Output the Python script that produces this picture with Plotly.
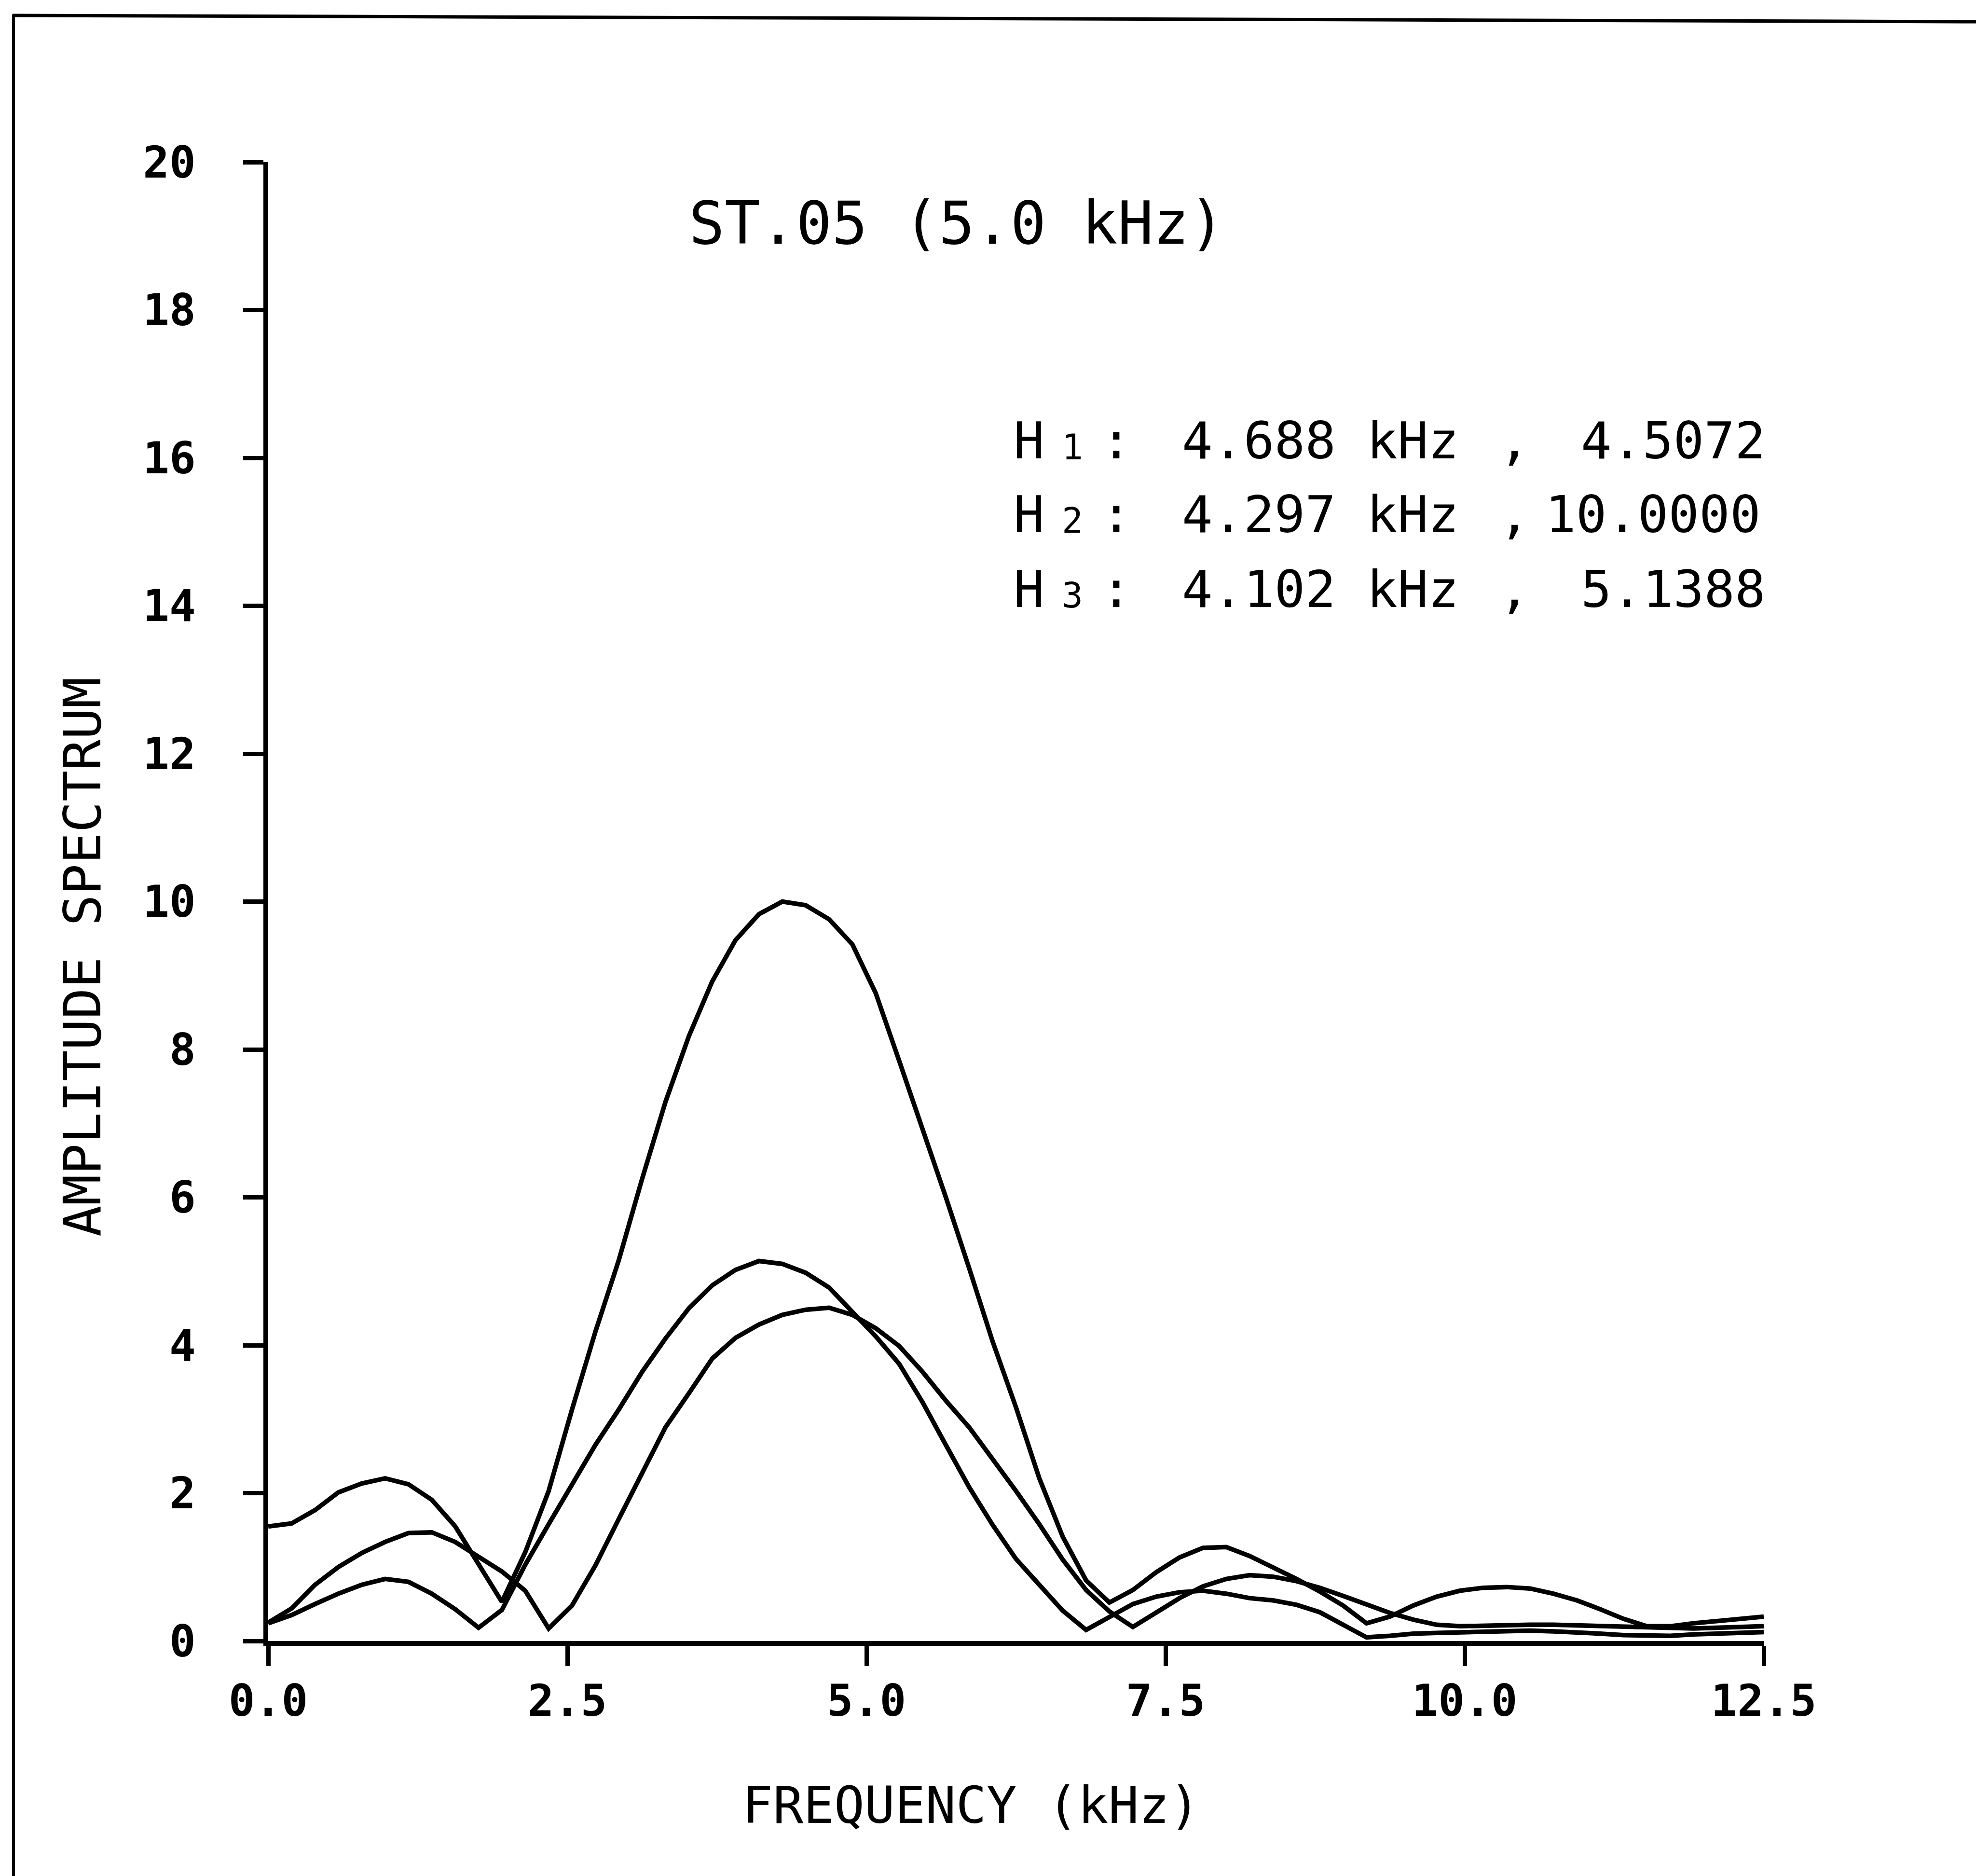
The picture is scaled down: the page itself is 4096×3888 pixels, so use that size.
import plotly.graph_objects as go

# ---- figure geometry (pixels) ----
W, H = 4096, 3888
L, R, T, B = 556, 3656, 336, 3401   # plot area edges

# ---- data: amplitude spectra sampled on the FFT frequency bins (kHz) ----
freq_khz = [0.000, 0.195, 0.391, 0.586, 0.781, 0.977, 1.172, 1.367, 1.563, 1.758,
            1.953, 2.148, 2.344, 2.539, 2.734, 2.930, 3.125, 3.320, 3.516, 3.711,
            3.906, 4.102, 4.297, 4.492, 4.688, 4.883, 5.078, 5.273, 5.469, 5.664,
            5.859, 6.055, 6.250, 6.445, 6.641, 6.836, 7.031, 7.227, 7.422, 7.617,
            7.813, 8.008, 8.203, 8.398, 8.594, 8.789, 8.984, 9.180, 9.375, 9.570,
            9.766, 9.961, 10.156, 10.352, 10.547, 10.742, 10.938, 11.133, 11.328, 11.523,
            11.719, 11.914, 12.109, 12.305, 12.500]

h1 = [0.25, 0.44, 0.76, 1.00, 1.19, 1.34, 1.46, 1.47, 1.34, 1.14,
      0.94, 0.68, 0.17, 0.48, 1.02, 1.65, 2.27, 2.89, 3.35, 3.82,
      4.10, 4.28, 4.41, 4.48, 4.5072, 4.41, 4.23, 3.99, 3.64, 3.25,
      2.89, 2.47, 2.03, 1.58, 1.10, 0.69, 0.40, 0.19, 0.38, 0.58,
      0.74, 0.84, 0.89, 0.87, 0.81, 0.72, 0.61, 0.50, 0.38, 0.29,
      0.22, 0.20, 0.21, 0.22, 0.22, 0.22, 0.21, 0.20, 0.19, 0.18,
      0.17, 0.17, 0.18, 0.19, 0.20]

h2 = [1.55, 1.59, 1.77, 2.01, 2.13, 2.20, 2.12, 1.91, 1.55, 1.05,
      0.53, 1.20, 2.03, 3.13, 4.18, 5.15, 6.25, 7.29, 8.18, 8.92,
      9.48, 9.83, 10.0000, 9.95, 9.76, 9.42, 8.76, 7.85, 6.94, 6.00,
      5.04, 4.05, 3.16, 2.20, 1.41, 0.82, 0.52, 0.69, 0.93, 1.13,
      1.26, 1.27, 1.15, 1.00, 0.84, 0.67, 0.48, 0.24, 0.33, 0.48,
      0.60, 0.68, 0.72, 0.73, 0.71, 0.64, 0.55, 0.43, 0.30, 0.20,
      0.20, 0.24, 0.27, 0.31, 0.33]

h3 = [0.24, 0.35, 0.50, 0.64, 0.76, 0.84, 0.80, 0.64, 0.43, 0.18,
      0.42, 1.03, 1.58, 2.13, 2.65, 3.13, 3.64, 4.09, 4.50, 4.81,
      5.02, 5.1388, 5.10, 4.98, 4.78, 4.45, 4.12, 3.75, 3.23, 2.65,
      2.08, 1.57, 1.11, 0.76, 0.41, 0.15, 0.33, 0.50, 0.60, 0.66,
      0.68, 0.64, 0.58, 0.55, 0.49, 0.39, 0.22, 0.05, 0.07, 0.10,
      0.11, 0.12, 0.13, 0.14, 0.14, 0.13, 0.12, 0.10, 0.08, 0.07,
      0.07, 0.09, 0.10, 0.11, 0.12]

# peak of each spectrum: (frequency kHz, amplitude)
peak_ids = ["1", "2", "3"]
peak_freq = [4.688, 4.297, 4.102]
peak_amp = [4.5072, 10.0000, 5.1388]

title_text = "ST.05 (5.0 kHz)"
x_title = "FREQUENCY (kHz)"
y_title = "AMPLITUDE SPECTRUM"

x_tickvals = [0, 2.5, 5, 7.5, 10, 12.5]
x_ticktext = ["0.0", "2.5", "5.0", "7.5", "10.0", "12.5"]
y_tickvals = [0, 2, 4, 6, 8, 10, 12, 14, 16, 18, 20]
y_ticktext = ["0", "2", "4", "6", "8", "10", "12", "14", "16", "18", "20"]

MONO = "DejaVu Sans Mono"
INK = "black"


def xp(px):
    """pixel column -> paper x"""
    return (px - L) / (R - L)


def yp(py):
    """pixel row -> paper y"""
    return (B - py) / (B - T)


fig = go.Figure()
for series in (h1, h2, h3):
    fig.add_trace(go.Scatter(
        x=freq_khz, y=series, mode="lines",
        line=dict(color=INK, width=9.5),
        showlegend=False, hoverinfo="skip", cliponaxis=False,
    ))

axis_common = dict(
    showline=True, linecolor=INK, linewidth=10,
    ticks="outside", tickcolor=INK, tickwidth=9,
    showgrid=False, zeroline=False, mirror=False,
    tickfont=dict(family=MONO, size=91, color=INK, weight="bold"),
)

fig.update_xaxes(range=[0, 12.5], tickvals=x_tickvals, ticktext=x_ticktext,
                 ticklen=42, ticklabelstandoff=-6, **axis_common)
fig.update_yaxes(range=[0, 20], tickvals=y_tickvals, ticktext=y_ticktext,
                 ticklen=42, ticklabelstandoff=80, **axis_common)

ann = []


def text(x, y, s, size, xanchor="left", angle=0):
    ann.append(dict(x=xp(x), y=yp(y), xref="paper", yref="paper", text=s,
                    showarrow=False, xanchor=xanchor, yanchor="middle",
                    textangle=angle,
                    font=dict(family=MONO, size=size, color=INK)))


# chart title
text(1426, 462, title_text, 123)

# peak table
row_y = [914, 1066, 1221]
for i, (hid, f, a) in enumerate(zip(peak_ids, peak_freq, peak_amp)):
    y = row_y[i]
    text(2099, y, "H", 106)
    text(2199, y + 12, hid, 73)
    text(2314, y, ":", 106, xanchor="center")
    text(2448, y, f"{f:.3f} kHz", 106)
    text(3139, y, ",", 106, xanchor="center")
    text(3662 if a < 10 else 3652, y, f"{a:.4f}", 106, xanchor="right")

# axis titles
text(1537, 3742, x_title, 105)
text(171, 1983, y_title, 107, xanchor="center", angle=-90)

fig.update_layout(annotations=ann)

# sheet border (top and left edges)
fig.add_shape(type="line", xref="paper", yref="paper",
              x0=xp(26), y0=yp(32), x1=xp(W), y1=yp(45),
              line=dict(color=INK, width=7))
fig.add_shape(type="line", xref="paper", yref="paper",
              x0=xp(28), y0=yp(30), x1=xp(28), y1=yp(H),
              line=dict(color=INK, width=6))

fig.update_layout(
    width=W, height=H, autosize=False,
    margin=dict(l=L, r=W - R, t=T, b=H - B, pad=0),
    paper_bgcolor="white", plot_bgcolor="white",
    showlegend=False,
)

fig.write_html("out.html")
